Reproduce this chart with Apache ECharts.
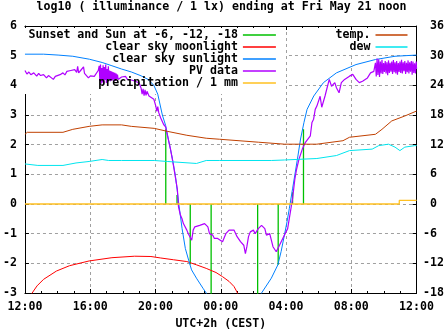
<!DOCTYPE html>
<html>
<head>
<meta charset="utf-8">
<script src="https://cdn.jsdelivr.net/npm/echarts@6/dist/echarts.min.js"></script>
<style>
  html, body { margin: 0; padding: 0; background: #fff; }
  #chart { width: 447px; height: 335px; }
</style>
</head>
<body>
<div id="chart"></div>
<script>
// Hours are counted from Thursday 12:00 local time (UTC+2h).
const xTickLabels = ['12:00', '16:00', '20:00', '00:00', '04:00', '08:00', '12:00'];

// Sunset / sunrise and sun at -6, -12, -18 degrees (impulses from 0)
const sunEventHours = [8.63, 9.32, 10.13, 11.41, 14.26, 15.52, 16.40, 17.07];
const sunEventLevels = [2.52, 0.30, -2.04, -3.50, -3.50, -2.05, 0.40, 2.52];

// clear sky moonlight, log10(lx)
const moonlight = [
  [0.20, -3.35], [0.44, -3.00], [0.74, -2.76], [1.14, -2.54], [1.93, -2.26], [2.73, -2.08],
  [3.93, -1.92], [5.33, -1.81], [6.72, -1.76], [7.72, -1.77], [8.32, -1.82], [9.11, -1.88],
  [9.92, -1.94], [10.51, -2.05], [11.11, -2.17], [11.71, -2.31], [12.11, -2.45], [12.51, -2.61],
  [12.81, -2.78], [13.00, -2.97], [13.15, -3.20]
];

// clear sky sunlight, log10(lx)
const sunlight = [
  [0.00, 5.05], [1.14, 5.05], [2.03, 5.02], [2.93, 4.98], [3.95, 4.88], [4.73, 4.77],
  [5.33, 4.66], [5.92, 4.55], [6.52, 4.45], [7.12, 4.32], [7.54, 4.20], [7.90, 4.00],
  [8.14, 3.70], [8.42, 3.00], [8.62, 2.65], [8.80, 2.15], [9.04, 1.52], [9.22, 0.95],
  [9.34, 0.42], [9.43, 0.00], [9.63, -0.83], [9.83, -1.50], [10.03, -1.89], [10.21, -2.22],
  [10.51, -2.50], [10.91, -2.84], [11.11, -3.00], [11.40, -3.30],
  [14.20, -3.30], [14.50, -3.00], [15.10, -2.50], [15.50, -2.05], [15.70, -1.60], [15.90, -1.05],
  [16.06, -0.60], [16.20, -0.16], [16.40, 0.51], [16.70, 1.52], [16.89, 2.19], [17.10, 2.75],
  [17.29, 3.19], [17.70, 3.64], [18.29, 4.09], [19.09, 4.42], [20.29, 4.70], [21.48, 4.87],
  [22.68, 4.98], [24.00, 5.02]
];

// PV panel reading converted to log10(lx)
const pvData = [
  [0.00, 4.50], [0.12, 4.38], [0.24, 4.45], [0.36, 4.36], [0.54, 4.42], [0.72, 4.31], [0.84, 4.40],
  [0.96, 4.33], [1.14, 4.36], [1.32, 4.25], [1.44, 4.33], [1.56, 4.28], [1.74, 4.20], [1.86, 4.30],
  [1.97, 4.27], [2.15, 4.36], [2.33, 4.42], [2.45, 4.35], [2.57, 4.47], [2.69, 4.42], [2.81, 4.50],
  [2.93, 4.45], [3.05, 4.53], [3.17, 4.44], [3.23, 4.64], [3.29, 4.42], [3.41, 4.50], [3.53, 4.45],
  [3.59, 4.62], [3.65, 4.40], [3.77, 4.36], [3.89, 4.25], [4.01, 4.32], [4.13, 4.27], [4.25, 4.30],
  [4.37, 4.26], [4.49, 4.50],
  [4.55, 4.66], [4.59, 4.15], [4.63, 4.70], [4.67, 4.05], [4.71, 4.58], [4.75, 4.10], [4.79, 4.68],
  [4.83, 4.02], [4.87, 4.62], [4.91, 4.18], [4.95, 4.70], [4.99, 4.08], [5.03, 4.55], [5.07, 4.12],
  [5.11, 4.64], [5.15, 4.20], [5.19, 4.50], [5.23, 4.14], [5.27, 4.48], [5.31, 4.18], [5.35, 4.46],
  [5.39, 4.16], [5.43, 4.44], [5.47, 4.20], [5.51, 4.42], [5.55, 4.15], [5.59, 4.40], [5.63, 4.22],
  [5.67, 4.36], [5.71, 4.20],
  [5.80, 4.25], [5.92, 4.28], [6.04, 4.22], [6.16, 4.30], [6.28, 4.20], [6.40, 4.25], [6.52, 4.18],
  [6.64, 4.24], [6.76, 4.14], [6.88, 4.18], [7.00, 4.08], [7.12, 3.90], [7.18, 3.70], [7.24, 3.88],
  [7.30, 3.65], [7.36, 3.85], [7.42, 3.66], [7.48, 3.80], [7.60, 3.64], [7.72, 3.62], [7.90, 3.53],
  [8.02, 3.30], [8.08, 3.12], [8.14, 3.28], [8.20, 3.08], [8.32, 2.90], [8.50, 2.68], [8.62, 2.60],
  [8.74, 2.30], [8.92, 1.85], [9.10, 1.30], [9.22, 0.90], [9.34, 0.50], [9.41, -0.10],
  [9.52, -0.36], [9.62, -0.49], [9.71, -0.66], [9.92, -0.88], [10.01, -1.00], [10.11, -0.94],
  [10.22, -1.22], [10.31, -0.88], [10.41, -0.77], [10.51, -0.83], [10.71, -0.72], [11.01, -0.66],
  [11.21, -0.77], [11.31, -1.00], [11.51, -1.05], [11.61, -1.16], [11.81, -1.16], [11.91, -1.10],
  [12.11, -1.27], [12.31, -1.00], [12.51, -0.88], [12.81, -0.88], [13.00, -1.10], [13.21, -1.27],
  [13.41, -1.39], [13.51, -1.67], [13.60, -1.44], [13.70, -1.10], [13.81, -0.94], [14.00, -0.88],
  [14.11, -1.00], [14.30, -0.83], [14.50, -0.72], [14.70, -0.83], [14.80, -1.05], [15.00, -1.00],
  [15.20, -1.44], [15.40, -1.61], [15.60, -1.39], [15.80, -1.16], [16.00, -0.94], [16.10, -0.83],
  [16.20, -0.49], [16.30, -0.16], [16.40, 0.18], [16.54, 0.84], [16.65, 1.18], [16.80, 1.52],
  [17.00, 1.85], [17.19, 2.08], [17.49, 2.30], [17.59, 2.75], [17.69, 2.86], [17.79, 3.19],
  [17.89, 3.30], [18.09, 3.63], [18.19, 3.26], [18.29, 3.30], [18.39, 3.64], [18.49, 3.86],
  [18.65, 4.20], [18.79, 3.97], [18.99, 4.09], [19.09, 3.92], [19.25, 3.75], [19.39, 4.09],
  [19.59, 4.20], [19.89, 4.31], [20.09, 4.37], [20.29, 4.20], [20.49, 4.09], [20.69, 4.14],
  [20.99, 4.25], [21.18, 4.42], [21.38, 4.47], [21.48, 4.76],
  [21.53, 4.30], [21.58, 4.90], [21.63, 4.35], [21.68, 4.88], [21.73, 4.28], [21.78, 4.80],
  [21.83, 4.40], [21.88, 4.86], [21.93, 4.38], [21.98, 4.75], [22.03, 4.45], [22.08, 4.82],
  [22.13, 4.40], [22.18, 4.78], [22.23, 4.34], [22.28, 4.84], [22.33, 4.42], [22.38, 4.76],
  [22.43, 4.46], [22.48, 4.80], [22.53, 4.38], [22.58, 4.85], [22.63, 4.44], [22.68, 4.78],
  [22.73, 4.40], [22.78, 4.82], [22.83, 4.36], [22.88, 4.75], [22.93, 4.45], [22.98, 4.80],
  [23.03, 4.42], [23.08, 4.86], [23.13, 4.40], [23.18, 4.78], [23.23, 4.48], [23.28, 4.82],
  [23.33, 4.38], [23.38, 4.76], [23.43, 4.44], [23.48, 4.84], [23.53, 4.40], [23.58, 4.78],
  [23.63, 4.46], [23.68, 4.82], [23.73, 4.36], [23.78, 4.80], [23.83, 4.42], [23.88, 4.74],
  [23.93, 4.40], [23.98, 4.80], [24.00, 4.55]
];

// precipitation in mm (step)
const precipHours = [0, 22.94, 24];
const precipValues = [0, 0.12, 0.12];

// temperature and dew point, degrees C (right axis)
const temperature = [
  [0.00, 14.1], [0.14, 14.5], [2.33, 14.5], [2.93, 15.1], [3.93, 15.7], [4.73, 16.0], [5.92, 16.0],
  [6.52, 15.7], [7.92, 15.3], [8.72, 14.7], [9.92, 13.9], [11.11, 13.3], [11.91, 13.1], [14.30, 12.5],
  [15.90, 12.1], [17.89, 12.1], [19.49, 12.8], [19.89, 13.5], [21.48, 14.1], [21.88, 15.1],
  [22.48, 16.8], [23.28, 17.8], [24.00, 18.8]
];
const dewPoint = [
  [0.00, 8.1], [0.79, 7.8], [2.33, 7.8], [3.13, 8.3], [3.93, 8.6], [4.73, 9.0], [5.13, 8.8],
  [5.92, 8.8], [7.92, 8.8], [8.72, 8.6], [10.51, 8.2], [11.11, 8.8], [11.91, 8.8], [15.10, 8.8],
  [15.90, 8.9], [17.89, 9.2], [19.09, 9.8], [19.89, 10.8], [21.28, 11.1], [21.68, 11.8],
  [22.28, 12.1], [22.68, 11.5], [22.98, 10.8], [23.28, 11.5], [23.88, 11.8], [24.00, 11.8]
];

const FONT = '"DejaVu Sans Mono", "Liberation Mono", monospace';
const FS = 11.6;
const textStyle = { fontFamily: FONT, fontSize: FS, fontWeight: 'bold', color: '#000' };

// impulses: vertical strokes from 0 to each level, separated by gaps
const sunEventData = [];
sunEventHours.forEach((h, i) => {
  sunEventData.push([h, 0], [h, sunEventLevels[i]], ['-', '-']);
});

const precipData = precipHours.map((h, i) => [h, precipValues[i]]);

function lineSeries(name, data, color, extra) {
  return Object.assign({
    name: name,
    type: 'line',
    data: data,
    symbol: 'none',
    showSymbol: false,
    silent: true,
    connectNulls: false,
    lineStyle: { color: color, width: 1 },
    itemStyle: { color: color },
    emphasis: { disabled: true }
  }, extra || {});
}

// key samples are plain line strokes without a marker
const keyMarker = { color: 'transparent', borderColor: 'transparent', borderWidth: 0, opacity: 0 };

const grid = { left: 21, right: 25, top: 26, bottom: 40 };
const gridDash = { color: '#a0a0a0', width: 1, type: [3, 3] };

const chart = echarts.init(document.getElementById('chart'), null, { renderer: 'canvas' });
chart.setOption({
  animation: false,
  backgroundColor: '#fff',
  grid: grid,
  graphic: [
    { type: 'text', x: 221.5, y: 7, z: 5,
      style: { text: 'log10 ( illuminance / 1 lx) ending at Fri May 21 noon',
               font: 'bold ' + FS + 'px ' + FONT, fill: '#000',
               textAlign: 'center', textVerticalAlign: 'middle' } },
    // key backgrounds keep the grid lines clear behind the key text
    { type: 'rect', z: 1, silent: true, shape: { x: 22, y: 28, width: 264, height: 66 }, style: { fill: '#fff' } },
    { type: 'rect', z: 1, silent: true, shape: { x: 330, y: 31, width: 85, height: 24 }, style: { fill: '#fff' } }
  ],
  legend: [
    {
      data: ['Sunset and Sun at -6, -12, -18', 'clear sky moonlight', 'clear sky sunlight', 'PV data', 'precipitation / 1 mm'],
      orient: 'vertical', align: 'right', right: 170.3, top: 29, padding: 0,
      itemWidth: 33, itemHeight: 13, itemGap: 0, selectedMode: false,
      itemStyle: keyMarker,
      lineStyle: { width: 1.6 },
      textStyle: textStyle
    },
    {
      data: ['temp.', 'dew'],
      orient: 'vertical', align: 'right', right: 38.7, top: 29, padding: 0,
      itemWidth: 32, itemHeight: 13, itemGap: 0, selectedMode: false,
      itemStyle: keyMarker,
      lineStyle: { width: 1.6 },
      textStyle: textStyle
    }
  ],
  xAxis: [
    {
      type: 'value', min: 0, max: 24, interval: 4, position: 'bottom',
      name: 'UTC+2h (CEST)', nameLocation: 'middle', nameGap: 25,
      nameTextStyle: textStyle,
      axisLine: { show: true, onZero: false, lineStyle: { color: '#000', width: 1 } },
      axisTick: { show: true, inside: true, length: 4, lineStyle: { color: '#000' } },
      minorTick: { show: true, splitNumber: 4, length: 2, lineStyle: { color: '#000' } },
      axisLabel: Object.assign({ margin: 8, formatter: v => xTickLabels[Math.round(v / 4)] }, textStyle),
      splitLine: { show: true, showMinLine: false, showMaxLine: false, lineStyle: gridDash }
    },
    {
      type: 'value', min: 0, max: 24, interval: 4, position: 'top',
      axisLine: { show: true, onZero: false, lineStyle: { color: '#000', width: 1 } },
      axisTick: { show: true, inside: true, length: 4, lineStyle: { color: '#000' } },
      minorTick: { show: true, splitNumber: 4, length: 2, lineStyle: { color: '#000' } },
      axisLabel: { show: false },
      splitLine: { show: false }
    }
  ],
  yAxis: [
    {
      type: 'value', min: -3, max: 6, interval: 1, position: 'left',
      axisLine: { show: true, onZero: false, lineStyle: { color: '#000', width: 1 } },
      axisTick: { show: true, inside: true, length: 4, lineStyle: { color: '#000' } },
      axisLabel: Object.assign({ margin: 8 }, textStyle),
      splitLine: { show: true, showMinLine: false, showMaxLine: false, lineStyle: gridDash }
    },
    {
      type: 'value', min: -18, max: 36, interval: 6, position: 'right',
      axisLine: { show: true, onZero: false, lineStyle: { color: '#000', width: 1 } },
      axisTick: { show: true, inside: true, length: 4, lineStyle: { color: '#000' } },
      axisLabel: Object.assign({ margin: 6.5, align: 'left',
        formatter: v => (v >= 0 ? ' ' + v : String(v)) }, textStyle),
      splitLine: { show: false }
    }
  ],
  series: [
    lineSeries('Sunset and Sun at -6, -12, -18', sunEventData, '#00c000', { lineStyle: { color: '#00c000', width: 1.3 } }),
    lineSeries('clear sky moonlight', moonlight, '#ff0000'),
    lineSeries('clear sky sunlight', sunlight, '#0080ff'),
    lineSeries('PV data', pvData, '#b000ff', { lineStyle: { color: '#b000ff', width: 1.2 } }),
    lineSeries('precipitation / 1 mm', precipData, '#ffc020', { step: 'end', lineStyle: { color: '#ffc020', width: 1.3 } }),
    lineSeries('temp.', temperature, '#c04000', { yAxisIndex: 1 }),
    lineSeries('dew', dewPoint, '#00e5ee', { yAxisIndex: 1 })
  ]
});
</script>
</body>
</html>
